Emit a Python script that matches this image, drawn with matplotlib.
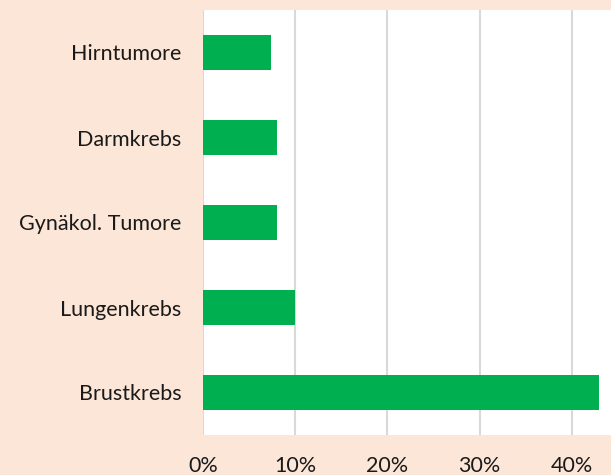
import matplotlib
matplotlib.use("Agg")
import matplotlib.pyplot as plt
from matplotlib.ticker import PercentFormatter

categories = ["Brustkrebs", "Lungenkrebs", "Gynäkol. Tumore", "Darmkrebs", "Hirntumore"]
values = [0.430, 0.100, 0.080, 0.080, 0.074]
xticks = [0.0, 0.1, 0.2, 0.3, 0.4]

W, H = 611, 475
fig = plt.figure(figsize=(W / 100, H / 100), dpi=100, facecolor="#FCE6D7")
ax = fig.add_axes([203 / W, 1 - 435 / H, (611 - 203) / W, 425 / H])
ax.set_facecolor("white")

ax.barh(range(len(categories)), values, height=0.41, color="#00B050", zorder=3)
ax.set_yticks(range(len(categories)))
ax.set_yticklabels(categories)
ax.set_ylim(-0.5, len(categories) - 0.5)
ax.set_xlim(0, 0.4425)
ax.set_xticks(xticks)
ax.xaxis.set_major_formatter(PercentFormatter(1.0, decimals=0))

ax.grid(axis="x", color="#D9D9D9", linewidth=1.5, zorder=0)
for s in ax.spines.values():
    s.set_visible(False)
ax.tick_params(axis="both", length=0, labelsize=15.5, labelcolor="#1a1a1a")
ax.tick_params(axis="x", pad=15)
ax.tick_params(axis="y", pad=15.5)
for lbl in ax.get_xticklabels() + ax.get_yticklabels():
    lbl.set_family(["Lato", "DejaVu Sans"])

fig.savefig("out.png", dpi=100, facecolor=fig.get_facecolor())
